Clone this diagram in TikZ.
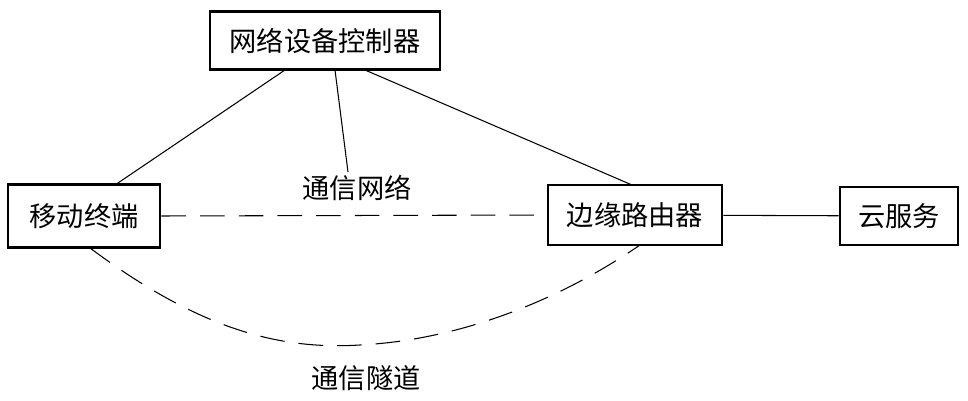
\documentclass[tikz,border=0pt]{standalone}
\usepackage{fontspec}
\newfontfamily\cjk{Noto Sans CJK SC}
\begin{document}
\begin{tikzpicture}[x=0.02cm,y=-0.02cm,
  box/.style={draw,line width=1.7pt,inner sep=0pt,font=\cjk\fontsize{15.5pt}{17pt}\selectfont},
  lbl/.style={font=\cjk\fontsize{15.5pt}{17pt}\selectfont},
  conn/.style={line width=0.6pt},
  dsh/.style={line width=0.6pt,dash pattern=on 14pt off 8pt}]
\useasboundingbox (0,0) rectangle (968,401);
\node[box,minimum width=230*0.02cm,minimum height=58*0.02cm] (ctl) at (325,41) {网络设备控制器};
\node[box,minimum width=152*0.02cm,minimum height=63*0.02cm] (mt) at (84,216) {移动终端};
\node[box,minimum width=174*0.02cm,minimum height=60*0.02cm] (er) at (635,215) {边缘路由器};
\node[box,minimum width=118*0.02cm,minimum height=58*0.02cm] (cs) at (899,216) {云服务};
\node[lbl] (net) at (357,188) {通信网络};
\node[lbl] (tun) at (366,378) {通信隧道};
\coordinate (c1) at (285,70);
\coordinate (c2) at (335,70);
\coordinate (c3) at (365,70);
\coordinate (m1) at (115,185);
\coordinate (e1) at (632,185);
\coordinate (n1) at (348,172);
\draw[conn] (m1) -- (c1);
\draw[conn] (c2) -- (n1);
\draw[conn] (c3) -- (e1);
\draw[conn] (er) -- (cs);
\draw[dsh] (mt.east) -- (er.west);
\coordinate (mb) at (90,248);
\coordinate (eb) at (640,245);
\draw[dsh] (mb) .. controls (200,330) and (280,350) .. (360,345) .. controls (460,340) and (560,300) .. (eb);
\end{tikzpicture}
\end{document}
